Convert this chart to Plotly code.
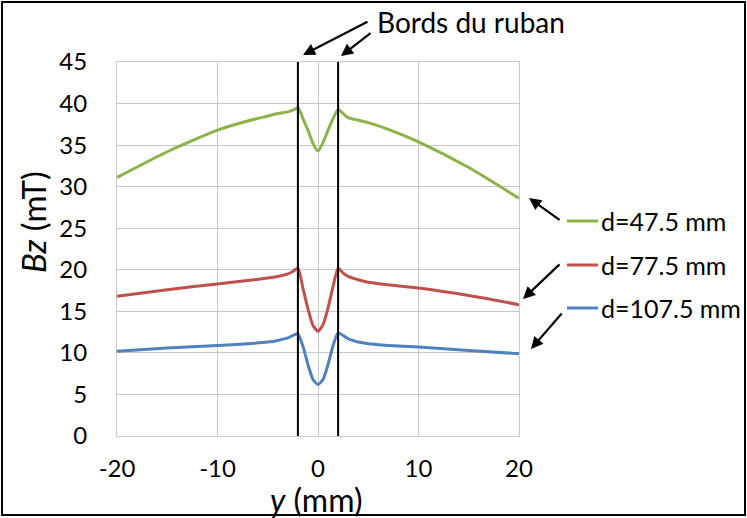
import plotly.graph_objects as go

# ---- data ----
y_mm = [-20, -15, -10, -7, -5, -4, -3, -2.5, -2, -1.5, -1, -0.5, 0, 0.5, 1, 1.5, 2, 2.5, 3, 4, 5, 7, 10, 15, 20]
bz_47 = [31.1, 34.2, 36.8, 37.9, 38.5, 38.8, 39.0, 39.2, 39.5, 38.2, 36.8, 35.2, 34.3, 35.3, 36.8, 38.2, 39.3, 38.8, 38.3, 38.0, 37.7, 36.9, 35.4, 32.3, 28.6]
bz_77 = [16.8, 17.6, 18.3, 18.7, 19.0, 19.2, 19.5, 19.8, 20.2, 17.8, 15.3, 13.3, 12.6, 13.4, 15.4, 18.0, 20.2, 19.6, 19.2, 18.8, 18.5, 18.2, 17.8, 16.9, 15.8]
bz_107 = [10.2, 10.6, 10.9, 11.1, 11.3, 11.5, 11.8, 12.1, 12.3, 10.8, 8.6, 6.8, 6.2, 6.8, 8.6, 10.9, 12.4, 12.1, 11.7, 11.3, 11.1, 10.9, 10.7, 10.3, 9.9]
series_names = ["d=47.5 mm", "d=77.5 mm", "d=107.5 mm"]
series_colors = ["#8db24a", "#c0504d", "#4f81bd"]
edges = [-2, 2]
x_ticks = [-20, -10, 0, 10, 20]
x_tick_text = ["-20", "-10", "0", "10", "20"]
y_ticks = list(range(0, 50, 5))

W, H = 747, 518
L, R, T, B = 117, 519, 62, 436
FONT = "Lato, 'Open Sans', sans-serif"

def px2paper(px, py):
    return (px - L) / (R - L), (B - py) / (B - T)

fig = go.Figure()
for ys, name, col in zip([bz_47, bz_77, bz_107], series_names, series_colors):
    fig.add_trace(go.Scatter(x=y_mm, y=ys, mode="lines", name=name,
                             line=dict(color=col, width=3, shape="spline", smoothing=0.6),
                             showlegend=False))

shapes = []
for e in edges:
    shapes.append(dict(type="line", xref="x", yref="paper", x0=e, x1=e, y0=0, y1=1,
                       line=dict(color="black", width=2)))
# outer frame
fx0, fy0 = px2paper(2, 515)
fx1, fy1 = px2paper(745, 2)
shapes.append(dict(type="rect", xref="paper", yref="paper", x0=fx0, y0=fy0, x1=fx1, y1=fy1,
                   line=dict(color="black", width=2)))

annotations = []
# legend entries
leg_y = [221, 265, 308]
for name, col, ly in zip(series_names, series_colors, leg_y):
    a0, b0 = px2paper(567, ly)
    a1, _ = px2paper(598, ly)
    shapes.append(dict(type="line", xref="paper", yref="paper", x0=a0, x1=a1, y0=b0, y1=b0,
                       line=dict(color=col, width=3)))
    tx, ty = px2paper(599, ly)
    annotations.append(dict(xref="paper", yref="paper", x=tx, y=ty, text=name, showarrow=False,
                            xanchor="left", yanchor="middle", font=dict(family=FONT, size=25, color="black")))

def arrow(tail, head):
    hx, hy = px2paper(*head)
    return dict(xref="paper", yref="paper", x=hx, y=hy, ax=tail[0] - head[0], ay=tail[1] - head[1],
                axref="pixel", ayref="pixel", text="", showarrow=True,
                arrowhead=2, arrowsize=1.1, arrowwidth=2.2, arrowcolor="black")

annotations += [
    arrow((561, 221), (529, 198)),
    arrow((561, 263), (523, 299)),
    arrow((563, 312), (531, 349)),
    arrow((369, 21), (303, 55)),
    arrow((372, 32), (341, 56)),
]
bx, by = px2paper(375, 22)
annotations.append(dict(xref="paper", yref="paper", x=bx, y=by, text="Bords du ruban", showarrow=False,
                        xanchor="left", yanchor="middle", font=dict(family=FONT, size=28, color="black")))
# axis titles
xtx, xty = px2paper(316, 499)
annotations.append(dict(xref="paper", yref="paper", x=xtx, y=xty, text="<i>y</i> (mm)", showarrow=False,
                        xanchor="center", yanchor="middle", font=dict(family=FONT, size=32, color="black")))
ytx, yty = px2paper(33, 222)
annotations.append(dict(xref="paper", yref="paper", x=ytx, y=yty, text="<i>Bz</i> (mT)", showarrow=False,
                        textangle=-90, xanchor="center", yanchor="middle",
                        font=dict(family=FONT, size=33, color="black")))

fig.update_layout(
    width=W, height=H,
    margin=dict(l=L, r=W - R, t=T, b=H - B, pad=0),
    paper_bgcolor="white", plot_bgcolor="white",
    shapes=shapes, annotations=annotations,
    xaxis=dict(range=[-20, 20], tickvals=x_ticks, ticktext=x_tick_text, showgrid=True,
               gridcolor="#c8c8c8", gridwidth=1,
               zeroline=False, showline=True, linecolor="#c8c8c8", mirror=True,
               ticks="outside", ticklen=11, tickcolor="rgba(0,0,0,0)",
               tickfont=dict(family=FONT, size=24, color="black")),
    yaxis=dict(range=[0, 45], tickvals=y_ticks, showgrid=True, gridcolor="#c8c8c8", gridwidth=1,
               zeroline=False, showline=True, linecolor="#c8c8c8", mirror=True,
               ticks="outside", ticklen=24, tickcolor="rgba(0,0,0,0)",
               tickfont=dict(family=FONT, size=24, color="black")),
)

fig.write_html("out.html", config={"displayModeBar": False},
               post_script="document.body.style.margin='0';")
